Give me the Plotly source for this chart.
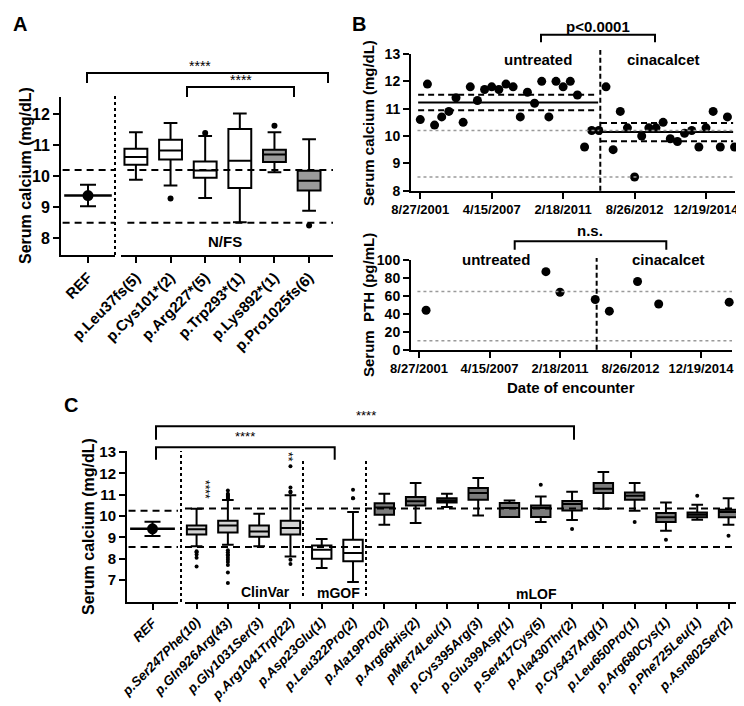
import plotly.graph_objects as go

W, H = 744, 706
FONT = "Liberation Sans, Arial, Helvetica, sans-serif"

# ---------------- Panel A data ----------------
a_ref_cat = ["REF"]
a_ref_mean = [9.38]
a_ref_sd = [0.35]
a_cats = ["p.Leu37fs(5)", "p.Cys101*(2)", "p.Arg227*(5)", "p.Trp293*(1)", "p.Lys892*(1)", "p.Pro1025fs(6)"]
a_q1 = [10.37, 10.54, 9.95, 9.62, 10.46, 9.54]
a_med = [10.62, 10.83, 10.19, 10.50, 10.70, 9.86]
a_q3 = [10.89, 11.18, 10.48, 11.53, 10.86, 10.18]
a_lo = [9.89, 9.70, 9.30, 8.52, 10.13, 8.89]
a_hi = [11.42, 11.72, 11.30, 12.03, 11.42, 11.20]
a_gray = ["p.Lys892*(1)", "p.Pro1025fs(6)"]
a_out_x = ["p.Cys101*(2)", "p.Arg227*(5)", "p.Lys892*(1)", "p.Pro1025fs(6)"]
a_out_y = [9.28, 11.40, 11.63, 8.41]
a_limits = [10.2, 8.5]

# ---------------- Panel B data ----------------
ca_values = [10.6, 11.9, 10.4, 10.7, 10.9, 11.4, 10.5, 11.8, 11.3, 11.7,
             11.8, 11.7, 11.9, 11.8, 10.7, 11.6, 11.2, 12.0, 10.7, 12.0,
             11.8, 12.0, 11.5, 9.6, 10.2, 10.2,
             11.8, 9.5, 10.9, 10.3, 8.5, 10.0, 10.3, 10.3, 10.5, 9.9,
             9.8, 10.1, 10.2, 9.6, 10.3, 10.9, 9.6, 10.7, 9.6]
ca_treatment_start = 25.2
ca_untreated_stats = [10.94, 11.23, 11.51]   # lower, mean, upper
ca_cinacalcet_stats = [9.81, 10.15, 10.48]
ca_normal = [10.2, 8.5]
date_tick_labels = ["8/27/2001", "4/15/2007", "2/18/2011", "8/26/2012", "12/19/2014"]
date_tick_every = 10

pth_encounter = [1, 18, 20, 25, 27, 31, 34, 44]
pth_values = [44, 87, 64, 56, 43, 76, 51, 53]
pth_normal = [65, 10]

# ---------------- Panel C data ----------------
c_ref_cat = ["REF"]
c_ref_mean = [9.40]
c_ref_sd = [0.33]
c_cats = ["p.Ser247Phe(10)", "p.Gln926Arg(43)", "p.Gly1031Ser(3)", "p.Arg1041Trp(22)",
          "p.Asp23Glu(1)", "p.Leu322Pro(2)",
          "p.Ala19Pro(2)", "p.Arg66His(2)", "pMet74Leu(1)", "p.Cys395Arg(3)",
          "p.Glu399Asp(1)", "p.Ser417Cys(5)", "p.Ala430Thr(2)", "p.Cys437Arg(1)",
          "p.Leu650Pro(1)", "p.Arg680Cys(1)", "p.Phe725Leu(1)", "p.Asn802Ser(2)"]
c_group = ["ClinVar"] * 4 + ["mGOF"] * 2 + ["mLOF"] * 12
c_q1 = [9.14, 9.23, 9.03, 9.13, 8.00, 7.88, 10.06, 10.50, 10.64, 10.77, 9.95, 9.95, 10.26, 11.08, 10.77, 9.72, 9.94, 9.94]
c_med = [9.38, 9.56, 9.28, 9.44, 8.42, 8.27, 10.40, 10.69, 10.73, 11.08, 10.38, 10.38, 10.56, 11.28, 10.95, 9.94, 10.06, 10.19]
c_q3 = [9.56, 9.78, 9.56, 9.78, 8.62, 8.89, 10.60, 10.89, 10.84, 11.31, 10.61, 10.50, 10.70, 11.55, 11.11, 10.14, 10.17, 10.30]
c_lo = [8.58, 8.66, 8.58, 8.10, 7.56, 6.91, 9.59, 9.67, 10.42, 10.02, 9.95, 9.72, 9.82, 10.34, 10.25, 9.31, 9.83, 9.59]
c_hi = [10.34, 10.75, 10.11, 10.97, 8.92, 10.19, 11.05, 11.55, 11.05, 11.78, 10.73, 10.92, 11.14, 12.06, 11.55, 10.64, 10.53, 10.84]
c_out_x = (["p.Ser247Phe(10)"] * 5 + ["p.Gln926Arg(43)"] * 18 + ["p.Arg1041Trp(22)"] * 6 +
           ["p.Leu322Pro(2)"] * 3 + ["p.Ser417Cys(5)", "p.Ala430Thr(2)", "p.Leu650Pro(1)",
                                       "p.Arg680Cys(1)", "p.Phe725Leu(1)", "p.Asn802Ser(2)"])
c_out_y = ([8.35, 8.30, 8.20, 8.05, 7.64] +
           [11.20, 11.05, 11.00, 10.95, 10.90, 10.85, 10.80, 10.78,
            8.40, 8.30, 8.20, 8.15, 8.05, 7.95, 7.85, 7.70, 7.35, 6.86] +
           [12.33, 11.34, 11.15, 11.10, 7.95, 7.75] +
           [11.23, 10.84, 10.84] +
           [11.47, 9.39, 9.72, 8.89, 10.95, 9.08])
c_limits_ref = [10.25, 8.55]
c_limits_var = [10.35, 8.55]

# ---------------- helpers ----------------
def px(x):
    return x / W

def py(y):
    return 1 - y / H

fig = go.Figure()

def add_boxes(cats, q1, med, q3, lo, hi, fill, xa, ya, width):
    if not cats:
        return
    fig.add_trace(go.Box(x=cats, q1=q1, median=med, q3=q3, lowerfence=lo, upperfence=hi,
                         fillcolor=fill, line=dict(color="black", width=2),
                         width=width, whiskerwidth=0.6, boxpoints=False,
                         xaxis=xa, yaxis=ya, showlegend=False, hoverinfo="skip"))

def add_ref(cat, mean, sd, xa, ya, linesize):
    fig.add_trace(go.Scatter(x=cat, y=mean, mode="markers", xaxis=xa, yaxis=ya,
                             marker=dict(symbol="line-ew", size=linesize,
                                         line=dict(color="black", width=2.5)),
                             showlegend=False, hoverinfo="skip"))
    fig.add_trace(go.Scatter(x=cat, y=mean, mode="markers", xaxis=xa, yaxis=ya,
                             marker=dict(symbol="circle", size=11, color="black"),
                             error_y=dict(type="data", array=sd, visible=True, color="black",
                                          thickness=2, width=8),
                             showlegend=False, hoverinfo="skip"))

def add_points(xs, ys, xa, ya, size):
    fig.add_trace(go.Scatter(x=xs, y=ys, mode="markers", xaxis=xa, yaxis=ya,
                             marker=dict(color="black", size=size), cliponaxis=False,
                             showlegend=False, hoverinfo="skip"))

def pick(names, arrs, keep):
    idx = [i for i, n in enumerate(names) if keep(n, i)]
    return [names[i] for i in idx], [[a[i] for i in idx] for a in arrs]

# ---------------- Panel A traces ----------------
add_ref(a_ref_cat, a_ref_mean, a_ref_sd, "x", "y", 34)
for fill, keep in [("white", lambda n, i: n not in a_gray), ("#9a9a9a", lambda n, i: n in a_gray)]:
    cs, (q1, md, q3, lo, hi) = pick(a_cats, [a_q1, a_med, a_q3, a_lo, a_hi], keep)
    add_boxes(cs, q1, md, q3, lo, hi, fill, "x2", "y", 0.66)
add_points(a_out_x, a_out_y, "x2", "y", 6)

# ---------------- Panel B traces ----------------
enc = list(range(len(ca_values)))
add_points(enc, ca_values, "x3", "y3", 9)
for stats, x0, x1 in [(ca_untreated_stats, enc[0] - 0.3, ca_treatment_start - 0.3),
                      (ca_cinacalcet_stats, ca_treatment_start + 0.1, enc[-1] - 0.2)]:
    for v, dash in zip(stats, ["dash", "solid", "dash"]):
        fig.add_trace(go.Scatter(x=[x0, x1], y=[v, v], mode="lines", xaxis="x3", yaxis="y3",
                                 line=dict(color="black", width=2, dash="6px,4px" if dash == "dash" else "solid"),
                                 showlegend=False, hoverinfo="skip"))
add_points(pth_encounter, pth_values, "x4", "y4", 9)

# ---------------- Panel C traces ----------------
add_ref(c_ref_cat, c_ref_mean, c_ref_sd, "x5", "y5", 32)
for grp, fill in [("ClinVar", "#d2d2d2"), ("mGOF", "white"), ("mLOF", "#7c7c7c")]:
    cs, (q1, md, q3, lo, hi) = pick(c_cats, [c_q1, c_med, c_q3, c_lo, c_hi],
                                    lambda n, i, g=grp: c_group[i] == g)
    add_boxes(cs, q1, md, q3, lo, hi, fill, "x6", "y5", 0.62)
add_points(c_out_x, c_out_y, "x6", "y5", 4)

# ---------------- axes ----------------
def axis(**kw):
    base = dict(showline=True, linecolor="black", linewidth=2, ticks="outside", ticklen=6,
                tickwidth=2, tickcolor="black", showgrid=False, zeroline=False, automargin=False)
    base.update(kw)
    return base

bold = lambda s: dict(family=FONT, size=s, color="black", weight="bold")
bold_it = dict(family=FONT, size=13.3, color="black", weight="bold", style="italic")
date_ticks = list(range(0, len(ca_values), date_tick_every))

fig.update_layout(
    template="none",
    width=W, height=H, margin=dict(l=0, r=0, t=0, b=0, pad=0, autoexpand=False),
    paper_bgcolor="white", plot_bgcolor="rgba(0,0,0,0)", boxmode="overlay", showlegend=False,
    font=dict(family=FONT, color="black"),
    xaxis=axis(domain=[px(53), px(107)], anchor="y", type="category", range=[-0.5, 0.5],
               tickangle=-45, tickfont=bold(15)),
    xaxis2=axis(domain=[px(113), px(325)], anchor="y", type="category",
                categoryorder="array", categoryarray=a_cats, range=[-0.43, 5.69],
                tickangle=-45, tickfont=bold(15)),
    yaxis=axis(domain=[py(247), py(89)], anchor="x", range=[7.46, 12.56],
               tickvals=[8, 9, 10, 11, 12], tickfont=bold(16)),
    xaxis3=axis(domain=[px(403), px(727)], anchor="y3", range=[-1.3, 44.06],
                tickvals=date_ticks, ticktext=date_tick_labels, tickangle=0, tickfont=bold(13)),
    yaxis3=axis(domain=[py(182.7), py(46)], anchor="x3", range=[8, 13], dtick=1, tickfont=bold(14)),
    xaxis4=axis(domain=[px(403), px(724)], anchor="y4", range=[-1.14, 44.4],
                tickvals=date_ticks, ticktext=date_tick_labels, tickangle=0, tickfont=bold(13)),
    yaxis4=axis(domain=[py(341.7), py(252)], anchor="x4", range=[0, 100], dtick=20, tickfont=bold(14)),
    xaxis5=axis(domain=[px(119), px(170)], anchor="y5", type="category", range=[-0.5, 0.5],
                tickangle=-45, tickfont=bold_it),
    xaxis6=axis(domain=[px(177), 1], anchor="y5", type="category",
                categoryorder="array", categoryarray=c_cats, range=[-0.37, 17.75],
                tickangle=-45, tickfont=bold_it, ticklen=5),
    yaxis5=axis(domain=[py(594), py(443)], anchor="x5", range=[5.97, 13.05],
                tickvals=[7, 8, 9, 10, 11, 12, 13], tickfont=bold(15)),
)

# ---------------- shapes ----------------
shapes = []
dash_blk = dict(color="black", width=2, dash="7px,5px")
for v in a_limits:
    for xr in ["x domain", "x2 domain"]:
        shapes.append(dict(type="line", xref=xr, yref="y", x0=0.03, x1=1, y0=v, y1=v, line=dash_blk))
for v in c_limits_ref:
    shapes.append(dict(type="line", xref="x5 domain", yref="y5", x0=0.03, x1=1, y0=v, y1=v, line=dash_blk))
for v in c_limits_var:
    shapes.append(dict(type="line", xref="x6 domain", yref="y5", x0=0, x1=1, y0=v, y1=v, line=dash_blk))
gray_dot = dict(color="#9a9a9a", width=1.5, dash="dot")
for v in ca_normal:
    shapes.append(dict(type="line", xref="x3 domain", yref="y3", x0=0.02, x1=1, y0=v, y1=v, line=gray_dot))
for v in pth_normal:
    shapes.append(dict(type="line", xref="x4 domain", yref="y4", x0=0.02, x1=1, y0=v, y1=v, line=gray_dot))
shapes.append(dict(type="line", xref="x3", yref="paper", x0=ca_treatment_start, x1=ca_treatment_start,
                   y0=py(182.7), y1=py(42), line=dict(color="black", width=2, dash="5px,3px")))
shapes.append(dict(type="line", xref="x4", yref="paper", x0=ca_treatment_start, x1=ca_treatment_start,
                   y0=py(341.7), y1=py(250), line=dict(color="black", width=2, dash="5px,3px")))

# dotted separators
dot_blk = dict(color="black", width=2, dash="dot")
for xs, y0, y1 in [(107, 88, 247), (173, 443, 594), (295, 452, 588), (358, 452, 588)]:
    shapes.append(dict(type="line", xref="paper", yref="paper", x0=px(xs), x1=px(xs),
                       y0=py(y1), y1=py(y0), line=dot_blk))

# brackets
def bracket(x0, x1, ytop, ybot):
    return dict(type="path", xref="paper", yref="paper",
                path=f"M {px(x0)},{py(ybot)} L {px(x0)},{py(ytop)} L {px(x1)},{py(ytop)} L {px(x1)},{py(ybot)}",
                line=dict(color="black", width=2))

shapes += [bracket(79, 320, 65, 75), bracket(179, 286, 79, 89),
           bracket(533, 647, 26.7, 34.3), bracket(506.7, 658.3, 233.3, 241.7),
           bracket(148, 566, 418.3, 431.7), bracket(148, 326.7, 439.3, 451.7)]
fig.update_layout(shapes=shapes)

# ---------------- annotations ----------------
anns = []
def txt(x, y, s, size, angle=0, weight="bold", style="normal"):
    anns.append(dict(x=px(x), y=py(y), xref="paper", yref="paper", text=s, showarrow=False,
                     textangle=angle, xanchor="center", yanchor="middle",
                     font=dict(family=FONT, size=size, color="black", weight=weight, style=style)))

txt(12, 16, "A", 20)
txt(351, 16, "B", 20)
txt(63, 397, "C", 20)
txt(17, 168, "Serum calcium (mg/dL)", 16, -90)
txt(361, 115, "Serum calcium (mg/dL)", 15, -90)
txt(361, 297, "Serum  PTH (pg/mL)", 15, -90)
txt(80, 519, "Serum calcium (mg/dL)", 16, -90)
txt(192, 58, "****", 14, weight="normal")
txt(233, 72, "****", 14, weight="normal")
txt(217, 233, "N/FS", 15)
txt(590, 18, "p<0.0001", 15)
txt(530, 52, "untreated", 15)
txt(655, 52, "cinacalcet", 15)
txt(582, 223, "n.s.", 15)
txt(488, 252, "untreated", 15)
txt(660, 252, "cinacalcet", 15)
txt(563, 380, "Date of encounter", 15)
txt(358, 407, "****", 13, weight="normal")
txt(237, 428, "****", 13, weight="normal")
txt(197, 481, "****", 12, 90, weight="normal")
txt(280, 449, "**", 12, 90, weight="normal")
txt(257, 584, "ClinVar", 14)
txt(330, 585, "mGOF", 14)
txt(528, 586, "mLOF", 14)
fig.update_layout(annotations=anns)

fig.write_html("out.html")
